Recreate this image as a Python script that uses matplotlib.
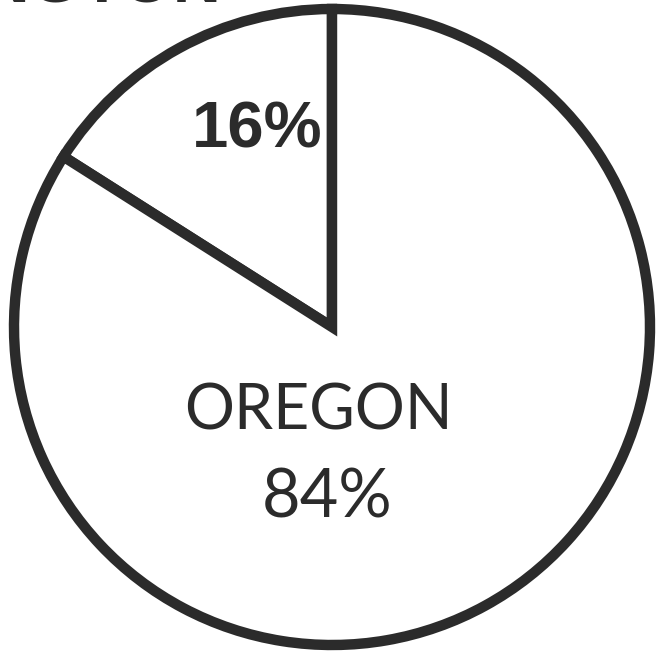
import matplotlib.pyplot as plt

# share of the total, by state
states = ["WASHINGTON", "OREGON"]
shares = [16, 84]
share_labels = ["16%", "84%"]

W, H = 656, 659
ink = "#2b2b2b"

fig = plt.figure(figsize=(W / 100, H / 100), dpi=100)
ax = fig.add_axes([0, 0, 1, 1])

# pie centre / radius in pixel units (y measured from the bottom)
cx, cy, r = 332, H - 327, 318

ax.pie(shares, startangle=90, counterclock=True, center=(cx, cy), radius=r,
       colors=["white", "white"],
       wedgeprops=dict(edgecolor=ink, linewidth=7.5, joinstyle="miter"))

ax.set_xlim(0, W)
ax.set_ylim(0, H)
ax.set_aspect("equal")
ax.axis("off")

# heading running off the top edge, only the feet of the letters show
ax.text(222, H - 2.5, states[0], ha="right", va="baseline", fontsize=48,
        fontweight="bold", family="Liberation Sans", color=ink)

ax.text(257, H - 131, share_labels[0], ha="center", va="center", fontsize=47,
        fontweight="bold", family="Liberation Sans", color=ink)

ax.text(318, H - 412, states[1], ha="center", va="center", fontsize=45,
        family="Lato", color=ink)
ax.text(327, H - 499, share_labels[1], ha="center", va="center", fontsize=48,
        family="Lato", color=ink)

fig.savefig("out.png", dpi=100, facecolor="white")
